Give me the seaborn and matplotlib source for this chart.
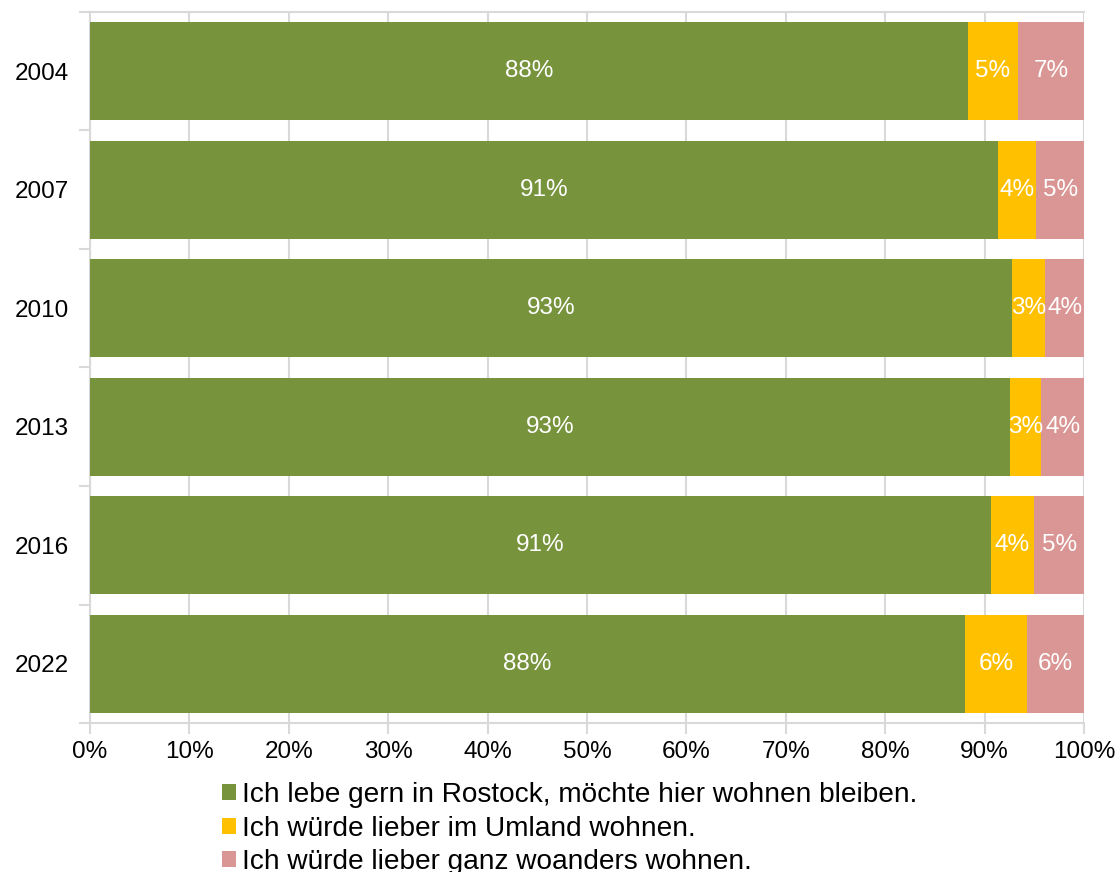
import numpy as np
import pandas as pd
import matplotlib
matplotlib.use("Agg")
import matplotlib.pyplot as plt
import seaborn as sns
from matplotlib.patches import Patch
from matplotlib.ticker import MultipleLocator, FixedLocator

years = ["2004", "2007", "2010", "2013", "2016", "2022"]
bleiben = [88.3, 91.3, 92.8, 92.6, 90.6, 88.0]
umland = [5.1, 3.9, 3.3, 3.1, 4.4, 6.3]
woanders = [6.6, 4.8, 3.9, 4.3, 5.0, 5.7]

labels = [
    "Ich lebe gern in Rostock, möchte hier wohnen bleiben.",
    "Ich würde lieber im Umland wohnen.",
    "Ich würde lieber ganz woanders wohnen.",
]
colors = ["#77933C", "#FFC000", "#D99694"]

sns.set_theme(style="white")
plt.rcParams["font.family"] = ["Liberation Sans", "DejaVu Sans"]

df = pd.DataFrame({"Jahr": years, "bleiben": bleiben, "umland": umland, "woanders": woanders})
df["c1"] = df["bleiben"]
df["c2"] = df["bleiben"] + df["umland"]
df["c3"] = df["c2"] + df["woanders"]

fig = plt.figure(figsize=(11.18, 8.72), dpi=100)
ax = fig.add_axes([90 / 1118, 1 - 723 / 872, (1084 - 90) / 1118, (723 - 12) / 872])

# stacked bars drawn back to front from cumulative sums
for col, color in zip(["c3", "c2", "c1"], colors[::-1]):
    sns.barplot(data=df, x=col, y="Jahr", order=years, orient="h", color=color,
                width=0.83, saturation=1, linewidth=0, ax=ax, zorder=3)

# segment labels
for i in range(len(years)):
    starts = [0, df["c1"][i], df["c2"][i]]
    vals = [bleiben[i], umland[i], woanders[i]]
    for s, v in zip(starts, vals):
        ax.text(s + v / 2, i, f"{round(v):.0f}%", ha="center", va="center",
                color="white", fontsize=17.5, zorder=5)

ax.set_xlim(0, 100)
ax.set_ylim(len(years) - 0.5, -0.5)
ax.set_xlabel("")
ax.set_ylabel("")

ax.xaxis.set_major_locator(MultipleLocator(10))
ax.set_xticklabels([f"{int(t)}%" for t in ax.get_xticks()])
ax.grid(axis="x", color="#d9d9d9", linewidth=1.5, zorder=0)
ax.set_axisbelow(True)

grey = "#d9d9d9"
for side in ["left", "bottom", "top"]:
    ax.spines[side].set_visible(True)
    ax.spines[side].set_color(grey)
    ax.spines[side].set_linewidth(1.5)
ax.spines["right"].set_visible(False)

ax.tick_params(axis="x", which="major", bottom=True, length=8, width=1.5, color=grey,
               labelsize=17.5, labelcolor="black", pad=5)
ax.tick_params(axis="y", which="major", left=False, labelsize=17.5, labelcolor="black", pad=9)
ax.yaxis.set_minor_locator(FixedLocator(np.arange(-0.5, len(years), 1.0)))
ax.tick_params(axis="y", which="minor", left=True, length=8, width=1.5, color=grey)

handles = [Patch(facecolor=c, edgecolor="none") for c in colors]
leg = fig.legend(handles, labels, loc="upper left", bbox_to_anchor=(222 / 1118, 1 - 782 / 872),
                 frameon=False, fontsize=20.2, handlelength=0.5, handleheight=0.5,
                 handletextpad=0.2, labelspacing=0.27, borderaxespad=0, borderpad=0)
for t in leg.get_texts():
    t.set_color("black")

fig.savefig("out.png", dpi=100)
